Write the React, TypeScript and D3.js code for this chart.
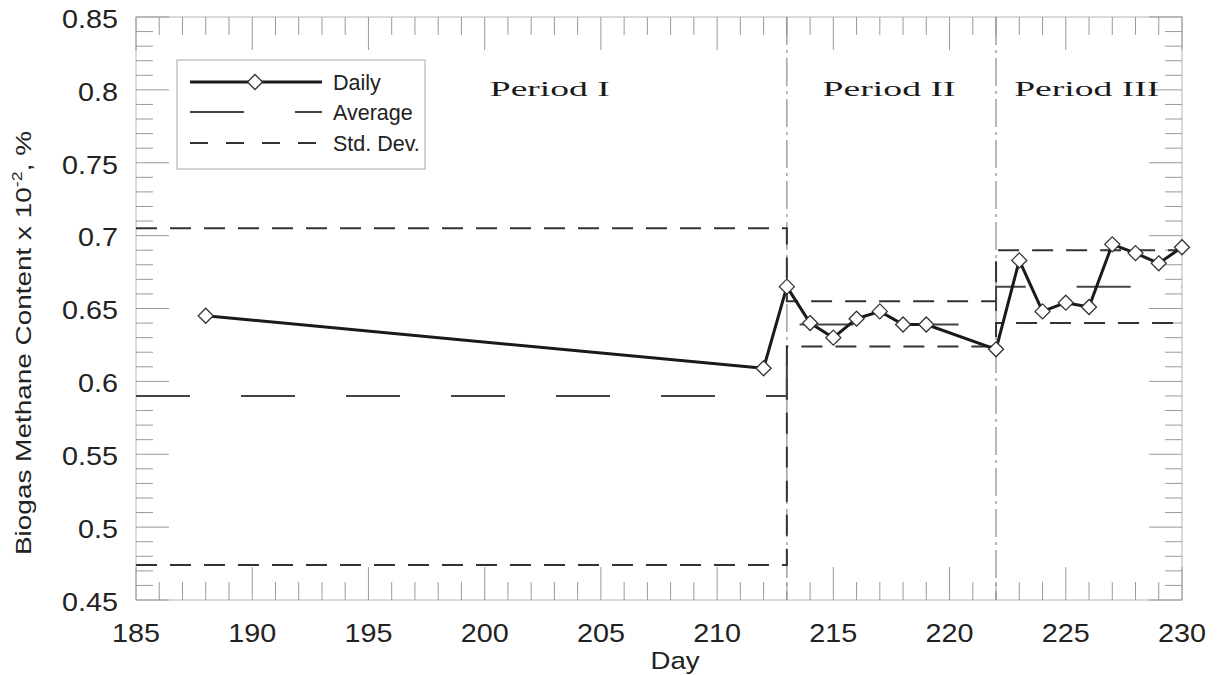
import React from "react";
import * as d3 from "d3";

const days = [188, 212, 213, 214, 215, 216, 217, 218, 219, 222, 223, 224, 225, 226, 227, 228, 229, 230];
const daily = [0.645, 0.609, 0.665, 0.640, 0.630, 0.643, 0.648, 0.639, 0.639, 0.622, 0.683, 0.648, 0.654, 0.651, 0.694, 0.688, 0.681, 0.692];

// Step series: value at start of each period, plus end
const stepDays = [185, 213, 222, 230];
const averageVals = [0.59, 0.639, 0.665, 0.665];
const stdUpperVals = [0.705, 0.655, 0.690, 0.690];
const stdLowerVals = [0.474, 0.624, 0.640, 0.640];

const periodDividers = [213, 222];
const periodLabels = ["Period I", "Period II", "Period III"];
const periodLabelDays = [202.8, 217.4, 225.9];

const xTicks = [185, 190, 195, 200, 205, 210, 215, 220, 225, 230];
const yTicks = [0.45, 0.5, 0.55, 0.6, 0.65, 0.7, 0.75, 0.8, 0.85];
const yTickLabels = ["0.45", "0.5", "0.55", "0.6", "0.65", "0.7", "0.75", "0.8", "0.85"];

const W = 1217;
const H = 675;
const L = 136, R = 1182, T = 17, B = 600;

export default function App() {
  const x = d3.scaleLinear().domain([185, 230]).range([L, R]);
  const y = d3.scaleLinear().domain([0.45, 0.85]).range([B, T]);

  const line = d3.line<[number, number]>().x(d => x(d[0])).y(d => y(d[1]));
  const step = d3.line<[number, number]>().x(d => x(d[0])).y(d => y(d[1])).curve(d3.curveStepAfter);

  const dailyPts: [number, number][] = days.map((d, i) => [d, daily[i]]);
  const avgPts: [number, number][] = stepDays.map((d, i) => [d, averageVals[i]]);
  const upPts: [number, number][] = stepDays.map((d, i) => [d, stdUpperVals[i]]);
  const loPts: [number, number][] = stepDays.map((d, i) => [d, stdLowerVals[i]]);

  const minorX = d3.range(185, 231, 1);
  const minorY = d3.range(45, 86, 1).map(v => v / 100);

  const tickColor = "#9a9a9a";
  const diamond = (cx: number, cy: number, r: number) =>
    `M${cx},${cy - r}L${cx + r},${cy}L${cx},${cy + r}L${cx - r},${cy}Z`;

  const periodWidths = [120, 133, 145];

  return (
    <svg width={W} height={H} style={{ position: "absolute", left: 0, top: 0, background: "#fff" }}
      fontFamily="Liberation Sans, Arial, sans-serif">
      {/* frame */}
      <rect x={L} y={T} width={R - L} height={B - T} fill="none" stroke="#b5b5b5" strokeWidth={1} />
      {/* ticks */}
      {minorX.map(d => {
        const major = d % 5 === 0;
        const len = major ? 33 : 18;
        return (
          <g key={"xt" + d} stroke={tickColor} strokeWidth={1}>
            <line x1={x(d)} x2={x(d)} y1={B} y2={B - len} />
            <line x1={x(d)} x2={x(d)} y1={T} y2={T + len} />
          </g>
        );
      })}
      {minorY.map((v, i) => {
        const major = (i % 5) === 0;
        const len = major ? 33 : 17;
        return (
          <g key={"yt" + i} stroke={tickColor} strokeWidth={1}>
            <line x1={L} x2={L + len} y1={y(v)} y2={y(v)} />
            <line x1={R} x2={R - len} y1={y(v)} y2={y(v)} />
          </g>
        );
      })}
      {/* period dividers */}
      {periodDividers.map(d => (
        <line key={"pd" + d} x1={x(d)} x2={x(d)} y1={T} y2={B} stroke="#8a8a8a" strokeWidth={1.2}
          strokeDasharray="28 5 3 5" />
      ))}
      {/* std dev */}
      <path d={step(upPts) || ""} fill="none" stroke="#333" strokeWidth={2} strokeDasharray="21 13" />
      <path d={step(loPts) || ""} fill="none" stroke="#333" strokeWidth={2} strokeDasharray="21 13" />
      {/* average */}
      <path d={step(avgPts) || ""} fill="none" stroke="#444" strokeWidth={2} strokeDasharray="54 51" />
      {/* daily */}
      <path d={line(dailyPts) || ""} fill="none" stroke="#1a1a1a" strokeWidth={3} strokeLinejoin="round" />
      {dailyPts.map((p, i) => (
        <path key={"dm" + i} d={diamond(x(p[0]), y(p[1]), 7.5)} fill="#fff" stroke="#333" strokeWidth={1.3} />
      ))}
      {/* period labels */}
      {periodLabels.map((t, i) => (
        <text key={t} x={x(periodLabelDays[i]) - periodWidths[i] / 2} y={96}
          fontFamily="Liberation Serif, Times New Roman, serif"
          fontSize={22} textLength={periodWidths[i]} lengthAdjust="spacingAndGlyphs" fill="#1a1a1a">{t}</text>
      ))}
      {/* legend */}
      <rect x={177} y={60} width={248} height={109} fill="#fff" stroke="#a8a8a8" strokeWidth={1} />
      <line x1={190} x2={322} y1={82} y2={82} stroke="#1a1a1a" strokeWidth={3} />
      <path d={diamond(255, 82, 7.5)} fill="#fff" stroke="#333" strokeWidth={1.3} />
      <text x={333} y={82} dy="0.35em" fontSize={21.5} fill="#222">Daily</text>
      <line x1={190} x2={322} y1={112} y2={112} stroke="#444" strokeWidth={2} strokeDasharray="54 51" />
      <text x={333} y={112} dy="0.35em" fontSize={21.5} fill="#222">Average</text>
      <line x1={190} x2={322} y1={143} y2={143} stroke="#333" strokeWidth={2} strokeDasharray="18 18" />
      <text x={333} y={143} dy="0.35em" fontSize={21.5} fill="#222">Std. Dev.</text>
      {/* y tick labels */}
      {yTicks.map((v, i) => (
        <g key={"yl" + i} transform={`translate(118, ${y(v) + 2}) scale(1.15, 1)`}>
          <text dy="0.35em" textAnchor="end" fontSize={25} fill="#222">{yTickLabels[i]}</text>
        </g>
      ))}
      {/* x tick labels */}
      {xTicks.map(d => (
        <g key={"xl" + d} transform={`translate(${x(d)}, 642) scale(1.15, 1)`}>
          <text textAnchor="middle" fontSize={25} fill="#222">{d}</text>
        </g>
      ))}
      <g transform="translate(675, 669) scale(1.15, 1)">
        <text textAnchor="middle" fontSize={24} fill="#222">Day</text>
      </g>
      <g transform={`translate(31, 343) rotate(-90)`}>
        <text x={-212} fontSize={22} textLength={424} lengthAdjust="spacingAndGlyphs" fill="#222">
          Biogas Methane Content x 10<tspan dy={-9} fontSize={14}>-2</tspan><tspan dy={9}>, %</tspan>
        </text>
      </g>
    </svg>
  );
}
